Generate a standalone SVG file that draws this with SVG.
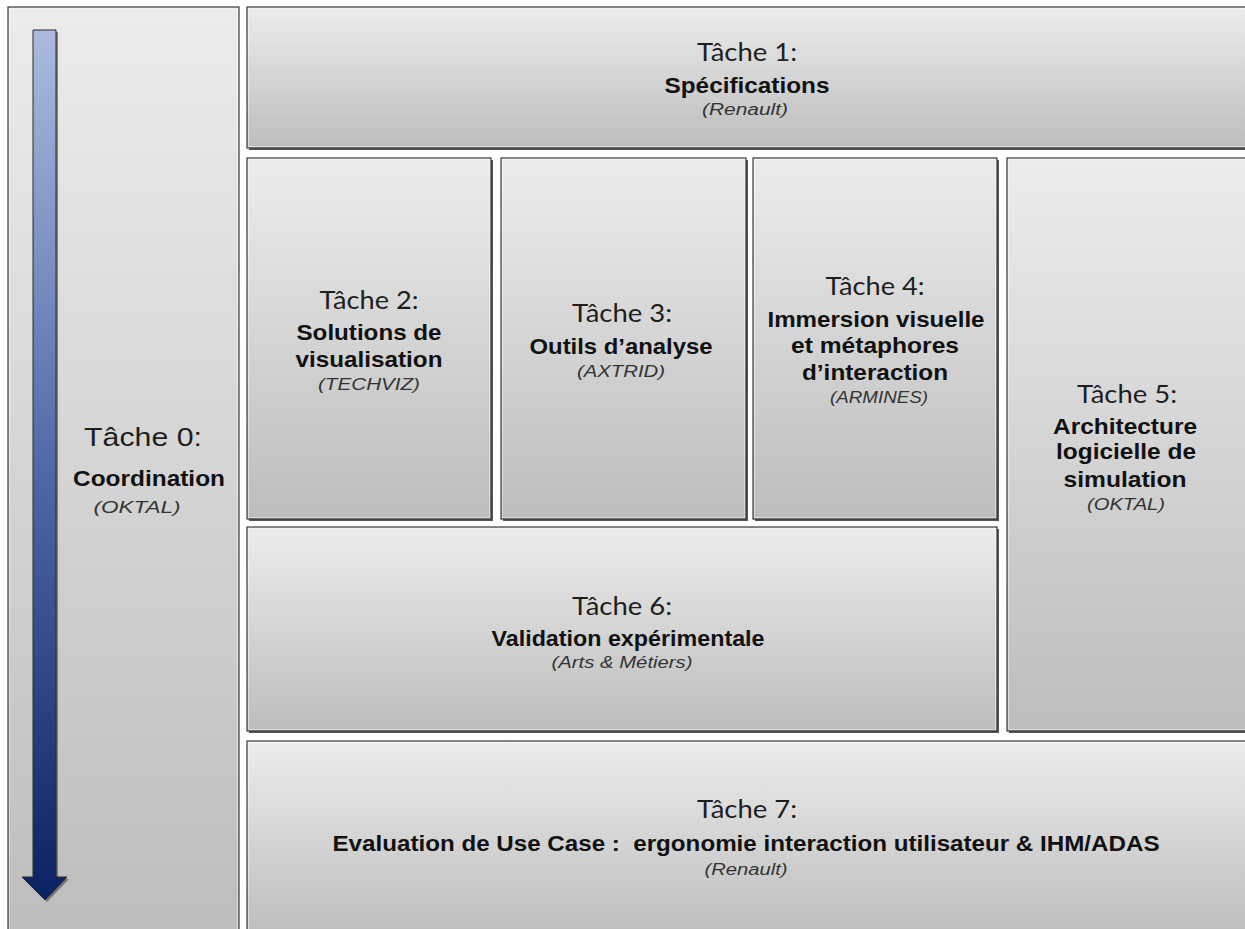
<svg xmlns="http://www.w3.org/2000/svg" width="1245" height="929" viewBox="0 0 1245 929">
<defs>
<linearGradient id="boxg" x1="0" y1="0" x2="0" y2="1">
<stop offset="0" stop-color="#ececec"/>
<stop offset="1" stop-color="#bdbdbd"/>
</linearGradient>
<linearGradient id="arrg" x1="0" y1="0" x2="0" y2="1">
<stop offset="0" stop-color="#abbbde"/>
<stop offset="0.5" stop-color="#4f6aa8"/>
<stop offset="1" stop-color="#0a2264"/>
</linearGradient>
<style>
.sh{fill:#555555}
.bx{fill:url(#boxg);stroke:#3a3a3a;stroke-width:1.2}
.hl{fill:none;stroke:#ffffff;stroke-opacity:0.45;stroke-width:1}
.t{font-family:Lato,"Liberation Sans",sans-serif;font-size:25px;fill:#1e1e1e;text-anchor:middle}
.t0{font-family:"Liberation Sans",Arial,sans-serif;font-size:25px;fill:#1e1e1e;text-anchor:middle}
.b{font-family:"Liberation Sans",Arial,sans-serif;font-weight:bold;font-size:22px;fill:#111111;text-anchor:middle;white-space:pre}
.i{font-family:"Liberation Sans",Arial,sans-serif;font-style:italic;font-size:16px;fill:#333333;text-anchor:middle}
</style>
</defs>
<rect width="1245" height="929" fill="#ffffff"/>

<g id="task0">
<rect class="bx" x="8" y="7" width="231" height="930"/>
<rect class="hl" x="9.5" y="8.5" width="228" height="927"/>
<g id="timeline-arrow">
<path d="M35,32 H58 V879 H69 L47,902 L24,879 H35 Z" fill="#555555" opacity="0.7"/>
<path d="M33,30 H56 V877 H67 L45,900 L22,877 H33 Z" fill="url(#arrg)" stroke="#2a2a2a" stroke-width="1"/>
</g>
<text class="t0" x="143" y="446" textLength="118" lengthAdjust="spacingAndGlyphs">Tâche 0:</text>
<text class="b" x="149" y="486" textLength="152" lengthAdjust="spacingAndGlyphs">Coordination</text>
<text class="i" x="137" y="513" textLength="87" lengthAdjust="spacingAndGlyphs">(OKTAL)</text>
</g>

<g id="task1">
<rect class="sh" x="249" y="9" width="1000" height="141"/>
<rect class="bx" x="247" y="7" width="1000" height="141"/>
<rect class="hl" x="248.5" y="8.5" width="997" height="138"/>
<text class="t" x="747" y="61" textLength="100" lengthAdjust="spacingAndGlyphs">Tâche 1:</text>
<text class="b" x="747" y="93" textLength="165" lengthAdjust="spacingAndGlyphs">Spécifications</text>
<text class="i" x="745" y="115" textLength="86" lengthAdjust="spacingAndGlyphs">(Renault)</text>
</g>

<g id="task2">
<rect class="sh" x="249" y="160" width="244" height="361"/>
<rect class="bx" x="247" y="158" width="244" height="361"/>
<rect class="hl" x="248.5" y="159.5" width="241" height="358"/>
<text class="t" x="369" y="309" textLength="99" lengthAdjust="spacingAndGlyphs">Tâche 2:</text>
<text class="b" x="369" y="340" textLength="145" lengthAdjust="spacingAndGlyphs">Solutions de</text>
<text class="b" x="369" y="367" textLength="147" lengthAdjust="spacingAndGlyphs">visualisation</text>
<text class="i" x="369" y="390" textLength="102" lengthAdjust="spacingAndGlyphs">(TECHVIZ)</text>
</g>

<g id="task3">
<rect class="sh" x="503" y="160" width="245" height="361"/>
<rect class="bx" x="501" y="158" width="245" height="361"/>
<rect class="hl" x="502.5" y="159.5" width="242" height="358"/>
<text class="t" x="622" y="322" textLength="100" lengthAdjust="spacingAndGlyphs">Tâche 3:</text>
<text class="b" x="621" y="354" textLength="183" lengthAdjust="spacingAndGlyphs">Outils d’analyse</text>
<text class="i" x="621" y="377" textLength="88" lengthAdjust="spacingAndGlyphs">(AXTRID)</text>
</g>

<g id="task4">
<rect class="sh" x="755" y="160" width="244" height="361"/>
<rect class="bx" x="753" y="158" width="244" height="361"/>
<rect class="hl" x="754.5" y="159.5" width="241" height="358"/>
<text class="t" x="875" y="295" textLength="99" lengthAdjust="spacingAndGlyphs">Tâche 4:</text>
<text class="b" x="876" y="327" textLength="217" lengthAdjust="spacingAndGlyphs">Immersion visuelle</text>
<text class="b" x="875" y="353" textLength="168" lengthAdjust="spacingAndGlyphs">et métaphores</text>
<text class="b" x="875" y="380" textLength="146" lengthAdjust="spacingAndGlyphs">d’interaction</text>
<text class="i" x="879" y="403" textLength="98" lengthAdjust="spacingAndGlyphs">(ARMINES)</text>
</g>

<g id="task5">
<rect class="sh" x="1009" y="160" width="240" height="573"/>
<rect class="bx" x="1007" y="158" width="240" height="573"/>
<rect class="hl" x="1008.5" y="159.5" width="237" height="570"/>
<text class="t" x="1127" y="403" textLength="100" lengthAdjust="spacingAndGlyphs">Tâche 5:</text>
<text class="b" x="1125" y="434" textLength="144" lengthAdjust="spacingAndGlyphs">Architecture</text>
<text class="b" x="1126" y="459" textLength="140" lengthAdjust="spacingAndGlyphs">logicielle de</text>
<text class="b" x="1125" y="487" textLength="123" lengthAdjust="spacingAndGlyphs">simulation</text>
<text class="i" x="1126" y="510" textLength="78" lengthAdjust="spacingAndGlyphs">(OKTAL)</text>
</g>

<g id="task6">
<rect class="sh" x="249" y="529" width="750" height="204"/>
<rect class="bx" x="247" y="527" width="750" height="204"/>
<rect class="hl" x="248.5" y="528.5" width="747" height="201"/>
<text class="t" x="622" y="615" textLength="100" lengthAdjust="spacingAndGlyphs">Tâche 6:</text>
<text class="b" x="628" y="646" textLength="273" lengthAdjust="spacingAndGlyphs">Validation expérimentale</text>
<text class="i" x="622" y="668" textLength="141" lengthAdjust="spacingAndGlyphs">(Arts &amp; Métiers)</text>
</g>

<g id="task7">
<rect class="bx" x="247" y="741" width="1000" height="195" stroke="#777777" stroke-width="2"/>
<rect class="hl" x="248.5" y="742.5" width="997" height="192"/>
<text class="t" x="747" y="818" textLength="100" lengthAdjust="spacingAndGlyphs">Tâche 7:</text>
<text class="b" x="746" y="851" textLength="827" lengthAdjust="spacingAndGlyphs">Evaluation de Use Case :  ergonomie interaction utilisateur &amp; IHM/ADAS</text>
<text class="i" x="746" y="875" textLength="83" lengthAdjust="spacingAndGlyphs">(Renault)</text>
</g>

<g id="connectors"></g>
</svg>
